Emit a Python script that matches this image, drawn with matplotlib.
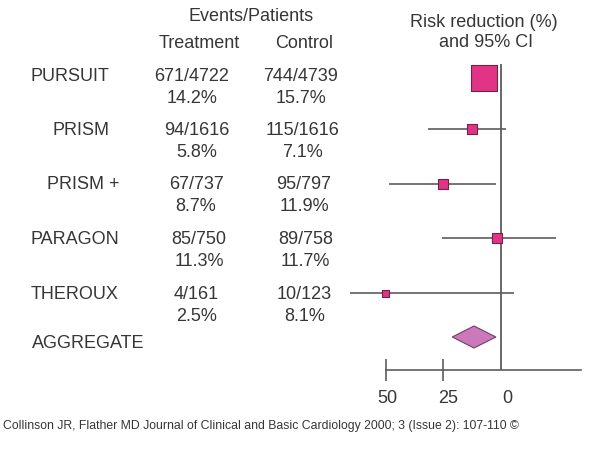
import matplotlib
matplotlib.use("Agg")
import matplotlib.pyplot as plt
from matplotlib.transforms import ScaledTranslation

# ---------------- data ----------------
studies = ["PURSUIT", "PRISM", "PRISM +", "PARAGON", "THEROUX"]
treat_events = [671, 94, 67, 85, 4]
treat_n = [4722, 1616, 737, 750, 161]
treat_pct = [14.2, 5.8, 8.7, 11.3, 2.5]
ctrl_events = [744, 115, 95, 89, 10]
ctrl_n = [4739, 1616, 797, 758, 123]
ctrl_pct = [15.7, 7.1, 11.9, 11.7, 8.1]

# risk reduction (%) point estimate and 95% CI (larger reduction, smaller reduction)
rr_point = [7.4, 12.6, 25.2, 1.8, 49.9]
rr_ci_big = [13.0, 31.5, 48.4, 25.7, 65.4]
rr_ci_small = [2.0, -2.0, 2.2, -23.8, -5.5]

agg_label = "AGGREGATE"
agg_point = 11.7
agg_ci_big = 21.1
agg_ci_small = 2.2

tick_vals = [50, 25, 0]
tick_labels = ["50", "25", "0"]

# ---------------- style / layout ----------------
TXT = "#363636"
LINE = "#5c5c5c"
BOX = "#E23486"
BOX_EDGE = "#6E2347"
DIA = "#CC79BC"
DIA_EDGE = "#6E4262"
FS = 13

W, H = 600, 474
PX = 2.31      # pixels per % risk reduction
X0 = 501       # pixel x of 0 %

name_x = [30.7, 52.7, 46.7, 30.7, 30.7]
agg_x = 32
row_base = [80.7, 135, 189.3, 244.3, 299]
agg_base = 348.3
line2 = 22
treat_x = [192, 196.8, 196, 199, 196.6]
ctrl_x = [300.8, 302.5, 304, 305.8, 304.5]

mark_y = [77.7, 129.3, 184, 238.3, 293.3]
agg_y = 337
agg_half_h = 11
box_px = [26, 10, 10, 10, 7]
tick_label_dx = [1.7, 5.0, 6.0]   # pixel nudges of tick labels

plt.rcParams['font.family'] = ['Liberation Sans', 'DejaVu Sans']

fig = plt.figure(figsize=(W / 100, H / 100), dpi=100)
fig.patch.set_facecolor("white")

# text layer in pixel coordinates
tax = fig.add_axes([0, 0, 1, 1])
tax.set_xlim(0, W)
tax.set_ylim(H, 0)
tax.axis("off")

def txt(x, y, s, ha="center", size=FS):
    tax.text(x, y, s, ha=ha, va="baseline", fontsize=size, color=TXT)

txt(250.8, 20.7, "Events/Patients")
txt(199.5, 47.7, "Treatment")
txt(304, 47.7, "Control")
txt(484, 26.7, "Risk reduction (%)")
txt(486, 46.7, "and 95% CI")

for i, name in enumerate(studies):
    b = row_base[i]
    txt(name_x[i], b, name, ha="left")
    txt(treat_x[i], b, f"{treat_events[i]}/{treat_n[i]}")
    txt(treat_x[i], b + line2, f"{treat_pct[i]:.1f}%")
    txt(ctrl_x[i], b, f"{ctrl_events[i]}/{ctrl_n[i]}")
    txt(ctrl_x[i], b + line2, f"{ctrl_pct[i]:.1f}%")
txt(agg_x, agg_base, agg_label, ha="left")

txt(2.7, 429.5,
    "Collinson JR, Flather MD Journal of Clinical and Basic Cardiology 2000; 3 (Issue 2): 107-110 \u00a9",
    ha="left", size=8.8)

# forest plot axes
fax = fig.add_axes([340 / W, 1 - 370 / H, 260 / W, 370 / H])
fax.set_xlim((X0 - 340) / PX, (X0 - 600) / PX)
fax.set_ylim(370, 0)
fax.patch.set_alpha(0)
for s in ["top", "left", "right"]:
    fax.spines[s].set_visible(False)
fax.spines["bottom"].set_bounds(50, (X0 - 580.7) / PX)
fax.spines["bottom"].set_color(LINE)
fax.spines["bottom"].set_linewidth(1.2)
fax.set_yticks([])
fax.set_xticks(tick_vals)
fax.set_xticklabels(tick_labels)
fax.tick_params(axis="x", direction="inout", length=21.7 * 0.72, width=1.2,
                color=LINE, labelsize=FS, labelcolor=TXT, pad=6.4)
fax.xaxis.get_major_ticks()[2].tick1line.set_visible(False)
for lab, dx in zip(fax.get_xticklabels(), tick_label_dx):
    lab.set_transform(lab.get_transform() + ScaledTranslation(dx / 100, 0, fig.dpi_scale_trans))

# zero line
fax.vlines(0, 64, 370, color=LINE, lw=1.3, zorder=1)

# CI lines
fax.hlines(mark_y, rr_ci_big, rr_ci_small, color=LINE, lw=1.2, zorder=2)

# boxes
sizes = [(p * 0.72) ** 2 for p in box_px]
fax.scatter(rr_point, mark_y, s=sizes, marker="s", facecolor=BOX,
            edgecolor=BOX_EDGE, linewidth=0.8, zorder=3)

# aggregate diamond
fax.fill([agg_ci_big, agg_point, agg_ci_small, agg_point],
         [agg_y, agg_y - agg_half_h, agg_y, agg_y + agg_half_h],
         facecolor=DIA, edgecolor=DIA_EDGE, linewidth=0.8, zorder=3)

fig.savefig("out.png", dpi=100, facecolor="white")
